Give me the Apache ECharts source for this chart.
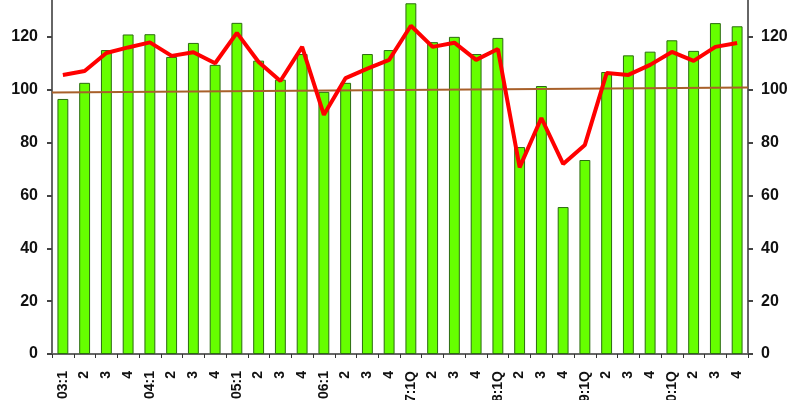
<!DOCTYPE html>
<html><head><meta charset="utf-8">
<script src="https://cdn.jsdelivr.net/npm/echarts@6/dist/echarts.min.js"></script>
<style>html,body{margin:0;padding:0;background:#fff}#c{width:800px;height:400px}</style>
</head><body><div id="c"></div>
<script>
var categories = ["03:1","2","3","4","04:1","2","3","4","05:1","2","3","4","06:1","2","3","4",
  "07:1Q","2","3","4","08:1Q","2","3","4","09:1Q","2","3","4","10:1Q","2","3","4"];
var barValues = [96.5,102.6,115,120.9,121,112.4,117.7,109.4,125.3,111,103.8,113.5,99.2,102.6,113.5,115,
  132.7,118,120,113.5,119.6,78.3,101.4,55.6,73.4,106.7,113,114.4,118.7,114.7,125.2,124];
var lineValues = [105.6,107.1,113.9,116,117.9,112.8,114.2,110,121.5,110.5,103.3,116.2,90.5,104.4,108,111.3,
  124.2,116.2,117.8,111.3,115.4,70.6,89.3,71.9,79.1,106.3,105.6,109.4,114.3,110.9,116.2,117.7];
var trendValues = [[0, 98.9], [1, 100.8]];
var yTicks = {min: 0, max: 140, interval: 20};

var chart = echarts.init(document.getElementById('c'), null, {renderer: 'canvas'});
var fam = 'Liberation Sans, Arial, sans-serif';
var axisLineStyle = {show: true, lineStyle: {color: '#666', width: 2}};
chart.setOption({
  animation: false,
  backgroundColor: '#fff',
  grid: {left: 52, right: 52, top: -16, bottom: 46, containLabel: false, outerBoundsMode: 'none'},
  xAxis: [{
    type: 'category', data: categories, boundaryGap: true,
    axisLine: axisLineStyle,
    axisTick: {show: true, length: 4, interval: 0, lineStyle: {color: '#333', width: 1}},
    axisLabel: {interval: 0, rotate: 90, margin: 17, fontFamily: fam, fontWeight: 'bold', fontSize: 14, color: '#111'},
    splitLine: {show: false}
  }, {
    type: 'value', min: 0, max: 1, show: false
  }],
  yAxis: [{
    type: 'value', min: yTicks.min, max: yTicks.max, interval: yTicks.interval, position: 'left',
    axisLine: axisLineStyle,
    axisTick: {show: true, length: 5, lineStyle: {color: '#444', width: 2}},
    axisLabel: {margin: 14, fontFamily: fam, fontWeight: 'bold', fontSize: 16, color: '#111'},
    splitLine: {show: false}
  }, {
    type: 'value', min: yTicks.min, max: yTicks.max, interval: yTicks.interval, position: 'right',
    axisLine: axisLineStyle,
    axisTick: {show: true, length: 5, lineStyle: {color: '#444', width: 2}},
    axisLabel: {margin: 13, fontFamily: fam, fontWeight: 'bold', fontSize: 16, color: '#111'},
    splitLine: {show: false}
  }],
  series: [{
    type: 'bar', data: barValues, barWidth: '50%', xAxisIndex: 0, yAxisIndex: 0,
    itemStyle: {color: '#66ff00', borderColor: '#2b6b10', borderWidth: 1}
  }, {
    type: 'line', data: trendValues, xAxisIndex: 1, yAxisIndex: 0, symbol: 'none',
    lineStyle: {color: '#a8602a', width: 2}, z: 3
  }, {
    type: 'line', data: lineValues, xAxisIndex: 0, yAxisIndex: 0, symbol: 'none',
    lineStyle: {color: '#ff0000', width: 4}, z: 4
  }]
});
</script></body></html>
